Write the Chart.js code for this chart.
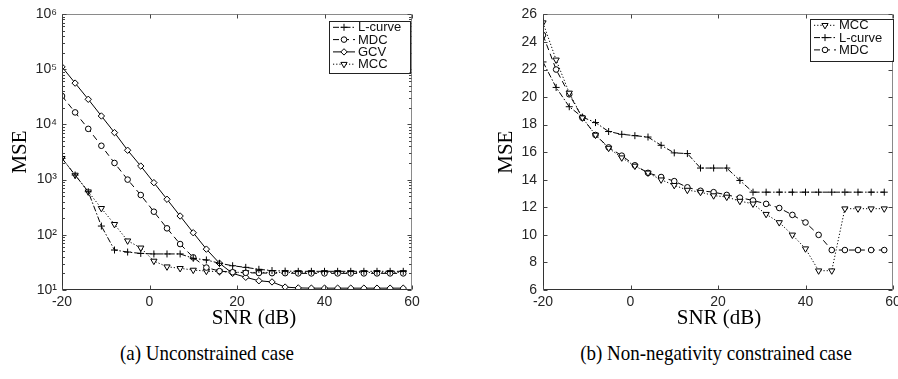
<!DOCTYPE html>
<html>
<head>
<meta charset="utf-8">
<script src="https://cdn.jsdelivr.net/npm/chart.js@4.4.1/dist/chart.umd.min.js"></script>
<style>
    html, body { margin: 0; padding: 0; background: #fff; overflow: hidden; }
    #page { position: relative; width: 898px; height: 379px; overflow: hidden; }
    canvas { position: absolute; top: 0; }
    #chartA { left: 0; }
    #chartB { left: 449px; }
    .caption {
        position: absolute;
        top: 342px;
        font-family: "Liberation Serif", "Times New Roman", serif;
        font-size: 19px;
        line-height: 22px;
        color: #000;
        white-space: nowrap;
        transform: translateX(-50%) scaleY(1.15);
    }
</style>
</head>
<body>
<div id="page">
    <canvas id="chartA" width="449" height="335"></canvas>
    <canvas id="chartB" width="470" height="335"></canvas>
    <div class="caption" style="left:207px">(a) Unconstrained case</div>
    <div class="caption" style="left:716px">(b) Non-negativity constrained case</div>
</div>
<script>
// SNR grid shared by both panels (dB)
const snr = [-20, -17, -14, -11, -8, -5, -2, 1, 4, 7, 10, 13, 16, 19, 22, 25, 28, 31, 34, 37, 40, 43, 46, 49, 52, 55, 58];

// (a) unconstrained case, MSE (log scale)
const lcurveA = [2430, 1210, 603, 144, 53, 48.7, 46, 45, 45, 45, 37.5, 35, 30.5, 27.5, 25.7, 23.7, 22.5, 22,
    21.8, 21.8, 21.8, 21.8, 21.8, 21.8, 21.8, 21.8, 21.8];
const mdcA = [32700, 16500, 8300, 4100, 2000, 1000, 526, 262, 131, 68, 39, 25.5, 22, 21, 20.5, 20.3, 20.2, 20.2,
    20, 20, 20, 20, 20, 20, 20, 20, 20];
const gcvA = [110000, 56000, 28500, 14200, 7100, 3400, 1760, 880, 440, 219, 109, 55, 30.5, 20, 17, 14.7, 14, 11.3,
    10.9, 10.8, 10.8, 10.8, 10.8, 10.8, 10.8, 10.8, 10.8];
const mccA = [2430, 1210, 603, 302, 155, 78, 58, 33.5, 26.4, 24.7, 23, 22, 21.5, 21,
    20.8, 20.8, 20.8, 20.8, 20.8, 20.8, 20.8, 20.8, 20.8, 20.8, 20.8, 20.8, 20.8];

// (b) non-negativity constrained case, MSE
const mccB = [25.4, 22.7, 20.3, 18.5, 17.25, 16.3, 15.6, 15.0, 14.5, 14.0, 13.6, 13.25, 13.1, 12.85, 12.75,
    12.45, 12.25, 11.5, 10.9, 10.0, 9.0, 7.4, 7.4, 11.9, 11.9, 11.9, 11.9];
const lcurveB = [22.55, 20.7, 19.3, 18.55, 18.15, 17.5, 17.3, 17.2, 17.1, 16.5, 15.95, 15.9, 14.85, 14.85, 14.85,
    13.95, 13.1, 13.1, 13.1, 13.1, 13.1, 13.1, 13.1, 13.1, 13.1, 13.1, 13.1];
const mdcB = [24.5, 22.0, 20.2, 18.5, 17.25, 16.35, 15.75, 15.05, 14.5, 14.2, 13.9, 13.45, 13.2, 13.1, 12.9,
    12.7, 12.5, 12.25, 11.95, 11.45, 10.9, 10.0, 8.9, 8.9, 8.9, 8.9, 8.9];

// axis ticks
const xTicks = [-20, 0, 20, 40, 60];
const yTicksA = [1e1, 1e2, 1e3, 1e4, 1e5, 1e6];
const yTickLabelsA = ["10¹", "10²", "10³", "10⁴", "10⁵", "10⁶"];
const yTicksB = [6, 8, 10, 12, 14, 16, 18, 20, 22, 24, 26];

const SANS = "'Liberation Sans', Arial, Helvetica, sans-serif";
const SERIF = "'Liberation Serif', 'Times New Roman', serif";

// matlab-ish line specs: '-.+', '--o', '-d', ':v'
const STYLES = {
    "L-curve": { borderDash: [6, 2, 1.5, 2], pointStyle: "cross", pointRadius: 3.5, rotation: 0 },
    MDC: { borderDash: [6, 4], pointStyle: "circle", pointRadius: 2.8, rotation: 0 },
    GCV: { borderDash: [], pointStyle: "rectRot", pointRadius: 3.2, rotation: 0 },
    MCC: { borderDash: [1.2, 2], pointStyle: "triangle", pointRadius: 3.6, rotation: 180 },
};

function series(label, values) {
    const s = STYLES[label];
    return {
        label,
        data: snr.map((x, i) => ({ x, y: values[i] })),
        borderColor: "#000",
        borderWidth: 1,
        borderDash: s.borderDash,
        pointStyle: s.pointStyle,
        pointRotation: s.rotation,
        pointRadius: s.pointRadius,
        pointBorderColor: "#000",
        pointBackgroundColor: "#fff",
        pointBorderWidth: 1,
        tension: 0,
    };
}

// box, inward ticks (both sides), log minor ticks
const matlabAxes = {
    id: "matlabAxes",
    afterDatasetsDraw(chart) {
        const { ctx, chartArea: a, scales } = chart;
        const L = Math.round(a.left) + 0.5, R = Math.round(a.right) - 0.5;
        const T = Math.round(a.top) + 0.5, B = Math.round(a.bottom) - 0.5;
        ctx.save();
        ctx.lineWidth = 1;
        ctx.setLineDash([]);

        ctx.strokeStyle = "#8a8a8a";
        ctx.beginPath();
        ctx.moveTo(L, T); ctx.lineTo(R, T); ctx.lineTo(R, B);
        ctx.stroke();
        ctx.strokeStyle = "#333";
        ctx.beginPath();
        ctx.moveTo(L, T); ctx.lineTo(L, B); ctx.lineTo(R, B);
        ctx.stroke();

        ctx.strokeStyle = "#444";
        ctx.beginPath();
        scales.x.ticks.forEach((t) => {
            const px = Math.round(scales.x.getPixelForValue(t.value)) + 0.5;
            ctx.moveTo(px, B); ctx.lineTo(px, B - 4);
            ctx.moveTo(px, T); ctx.lineTo(px, T + 4);
        });
        scales.y.ticks.forEach((t) => {
            const py = Math.round(scales.y.getPixelForValue(t.value)) + 0.5;
            ctx.moveTo(L, py); ctx.lineTo(L + 4, py);
            ctx.moveTo(R, py); ctx.lineTo(R - 4, py);
        });
        if (scales.y.type === "logarithmic") {
            yTicksA.slice(0, -1).forEach((d) => {
                for (let m = 2; m <= 9; m++) {
                    const py = Math.round(scales.y.getPixelForValue(d * m)) + 0.5;
                    ctx.moveTo(L, py); ctx.lineTo(L + 2.5, py);
                    ctx.moveTo(R, py); ctx.lineTo(R - 2.5, py);
                }
            });
        }
        ctx.stroke();
        ctx.restore();
    },
};

// boxed legend inside the axes with line + marker samples
const boxLegend = {
    id: "boxLegend",
    afterDraw(chart, args, opts) {
        const { ctx } = chart;
        const { left, top, width, height, rowHeight } = opts;
        ctx.save();
        ctx.fillStyle = "#fff";
        ctx.fillRect(left, top, width, height);
        ctx.strokeStyle = "#222";
        ctx.lineWidth = 1;
        ctx.strokeRect(Math.round(left) + 0.5, Math.round(top) + 0.5, width, height);

        ctx.font = `13px ${SANS}`;
        ctx.textBaseline = "middle";
        chart.data.datasets.forEach((ds, i) => {
            const y = top + 6.8 + i * rowHeight;
            ctx.strokeStyle = "#000";
            ctx.lineWidth = 1;
            ctx.setLineDash(ds.borderDash);
            ctx.beginPath();
            ctx.moveTo(left + 4, y);
            ctx.lineTo(left + 26, y);
            ctx.stroke();
            ctx.setLineDash([]);
            ctx.fillStyle = "#fff";
            Chart.helpers.drawPoint(ctx, {
                pointStyle: ds.pointStyle,
                radius: ds.pointRadius,
                rotation: ds.pointRotation,
                borderWidth: 1,
            }, left + 15, y);
            ctx.fillStyle = "#111";
            ctx.fillText(ds.label, left + 29, y + 0.5);
        });
        ctx.restore();
    },
};

// x axis label, placed by hand (panel (a) is off-centre in the original)
const xLabel = {
    id: "xLabel",
    afterDraw(chart, args, opts) {
        const { ctx } = chart;
        ctx.save();
        ctx.font = `21px ${SERIF}`;
        ctx.fillStyle = "#000";
        ctx.textAlign = "center";
        ctx.textBaseline = "middle";
        ctx.fillText(opts.text, opts.x, opts.y);
        ctx.restore();
    },
};

function makeChart(canvasId, datasets, cfg) {
    return new Chart(document.getElementById(canvasId), {
        type: "line",
        data: { datasets },
        plugins: [matlabAxes, boxLegend, xLabel],
        options: {
            responsive: false,
            animation: false,
            devicePixelRatio: 1,
            layout: { padding: { top: 14, right: cfg.padRight, left: 0, bottom: 0 } },
            plugins: {
                legend: { display: false },
                tooltip: { enabled: false },
                boxLegend: cfg.legend,
                xLabel: cfg.xLabel,
            },
            scales: {
                x: {
                    type: "linear",
                    min: -20,
                    max: 60,
                    grid: { display: false, drawTicks: false },
                    border: { display: false },
                    afterBuildTicks: (scale) => {
                        scale.ticks = xTicks.map((value) => ({ value }));
                    },
                    afterFit: (scale) => {
                        scale.height = 45;
                    },
                    ticks: {
                        padding: 4,
                        color: "#262626",
                        font: { family: SANS, size: 14 },
                        maxRotation: 0,
                    },
                },
                y: cfg.y,
            },
        },
    });
}

makeChart("chartA", [
    series("L-curve", lcurveA),
    series("MDC", mdcA),
    series("GCV", gcvA),
    series("MCC", mccA),
], {
    padRight: 37,
    legend: { left: 329, top: 20.5, width: 81, height: 52, rowHeight: 12.3 },
    xLabel: { text: "SNR (dB)", x: 254, y: 318 },
    y: {
        type: "logarithmic",
        min: 10,
        max: 1e6,
        grid: { display: false, drawTicks: false },
        border: { display: false },
        afterBuildTicks: (scale) => {
            scale.ticks = yTicksA.map((value) => ({ value }));
        },
        afterFit: (scale) => {
            scale.width = 62;
        },
        ticks: {
            padding: 5,
            color: "#262626",
            font: { family: SANS, size: 14 },
            callback: (value) => yTickLabelsA[yTicksA.indexOf(value)],
        },
        title: {
            display: true,
            text: "MSE",
            color: "#000",
            font: { family: SERIF, size: 21 },
            padding: { top: 7.4, bottom: 0 },
        },
    },
});

makeChart("chartB", [
    series("MCC", mccB),
    series("L-curve", lcurveB),
    series("MDC", mdcB),
], {
    padRight: 26,
    legend: { left: 361, top: 18.5, width: 83, height: 42, rowHeight: 12.3 },
    xLabel: { text: "SNR (dB)", x: 270, y: 318 },
    y: {
        type: "linear",
        min: 6,
        max: 26,
        grid: { display: false, drawTicks: false },
        border: { display: false },
        afterBuildTicks: (scale) => {
            scale.ticks = yTicksB.map((value) => ({ value }));
        },
        afterFit: (scale) => {
            scale.width = 94;
        },
        ticks: {
            padding: 6,
            color: "#262626",
            font: { family: SANS, size: 14 },
        },
        title: {
            display: true,
            text: "MSE",
            color: "#000",
            font: { family: SERIF, size: 21 },
            padding: { top: 45, bottom: 0 },
        },
    },
});
</script>
</body>
</html>
